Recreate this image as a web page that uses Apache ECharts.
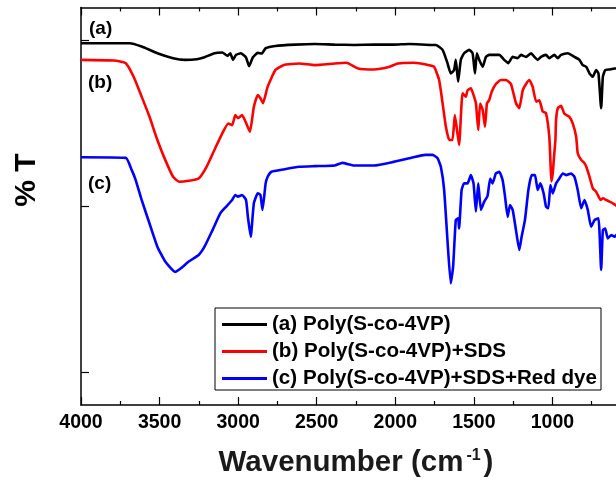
<!DOCTYPE html>
<html>
<head>
<meta charset="utf-8">
<script src="https://cdn.jsdelivr.net/npm/echarts@6/dist/echarts.min.js"></script>
<style>
  html, body { margin: 0; padding: 0; background: #fff; }
  #chart { width: 616px; height: 495px; }
</style>
</head>
<body>
<div id="chart"></div>
<script>
// FTIR spectra: wavenumber (cm-1) against relative transmittance (offset traces)
const xTicks = [4000, 3500, 3000, 2500, 2000, 1500, 1000, 500];
const yTicks = [10, 60, 110];

const seriesNames = [
  '(a) Poly(S-co-4VP)',
  '(b) Poly(S-co-4VP)+SDS',
  '(c) Poly(S-co-4VP)+SDS+Red dye'
];
const traceLabels = ['(a)', '(b)', '(c)'];

// (a) copolymer
const wnA = [4000, 3690, 3614, 3514, 3414, 3339, 3263, 3214, 3151, 3101, 3068, 3050, 3033, 3013, 2983,
  2950, 2930, 2907, 2875, 2850, 2825, 2763, 2637, 2512, 2386, 2261, 2136, 2011, 1911, 1760, 1742,
  1699, 1668, 1647, 1626, 1615, 1600, 1583, 1562, 1530, 1508, 1493, 1481, 1466, 1444, 1423, 1402,
  1370, 1338, 1307, 1281, 1253, 1221, 1200, 1168, 1136, 1115, 1094, 1073, 1041, 1020, 988, 966,
  945, 902, 860, 828, 807, 785, 764, 743, 722, 707, 690, 679, 664, 637, 605, 585];
const tA = [109.2, 109.2, 108.2, 106.2, 104.7, 104.2, 104.4, 105.0, 106.2, 106.4, 105.4, 106.2, 104.2, 105.7, 106.2,
  104.9, 102.3, 104.9, 106.3, 106.1, 107.7, 108.4, 108.8, 109.0, 108.8, 108.7, 108.8, 108.8, 109.0, 108.7, 108.7,
  107.2, 103.2, 100.1, 101.1, 104.2, 97.6, 104.2, 106.2, 107.2, 106.2, 100.1, 106.2, 104.2, 102.1, 105.1, 105.7,
  105.7, 105.7, 104.2, 103.2, 105.1, 104.7, 105.7, 105.1, 106.2, 105.1, 104.2, 105.1, 105.7, 104.7, 105.7, 104.7,
  105.7, 106.2, 105.1, 104.2, 102.6, 102.1, 100.1, 99.1, 101.1, 100.1, 89.6, 99.1, 101.1, 101.3, 101.6, 101.6];

// (b) copolymer + SDS
const wnB = [4000, 3790, 3715, 3665, 3614, 3564, 3514, 3464, 3414, 3376, 3314, 3251, 3201, 3151, 3101,
  3063, 3038, 3018, 3001, 2975, 2950, 2925, 2900, 2875, 2858, 2842, 2812, 2763, 2712, 2612, 2512,
  2386, 2311, 2236, 2136, 2036, 1985, 1885, 1838, 1785, 1753, 1721, 1699, 1678, 1657, 1636, 1621,
  1594, 1572, 1551, 1540, 1519, 1505, 1487, 1472, 1460, 1444, 1429, 1417, 1402, 1387, 1360, 1328,
  1296, 1264, 1232, 1211, 1189, 1168, 1147, 1126, 1104, 1083, 1062, 1041, 1020, 1013, 1007, 998,
  988, 981, 977, 966, 945, 924, 892, 871, 849, 839, 817, 796, 785, 764, 743, 722, 707, 694, 679,
  658, 637, 616, 585];
const tB = [104.2, 104.0, 103.2, 99.1, 93.1, 87.0, 80.0, 74.0, 68.9, 67.4, 67.7, 68.4, 71.9, 77.0, 82.0,
  85.0, 84.5, 87.5, 86.6, 87.5, 85.2, 82.5, 90.0, 93.6, 92.6, 91.1, 96.1, 101.1, 102.6, 103.1, 102.6,
  103.1, 103.3, 101.6, 101.3, 102.1, 103.1, 103.3, 103.1, 102.6, 102.1, 98.1, 91.1, 84.0, 80.0, 80.0, 87.5,
  78.5, 94.1, 93.1, 95.0, 95.6, 94.0, 91.1, 83.0, 91.0, 89.1, 84.0, 91.0, 92.1, 94.5, 96.9, 98.1,
  98.1, 96.9, 91.1, 89.6, 95.0, 96.9, 98.1, 96.1, 91.6, 92.0, 88.6, 88.1, 81.1, 74.0, 67.5, 70.0,
  76.0, 80.0, 86.0, 89.6, 90.3, 87.9, 87.0, 85.0, 81.0, 76.0, 74.0, 73.0, 72.0, 68.9, 65.4, 64.4, 63.0, 61.9, 62.4,
  61.9, 61.4, 60.9, 59.9];

// (c) copolymer + SDS + red dye
const wnC = [4000, 3715, 3677, 3652, 3614, 3564, 3514, 3464, 3401, 3364, 3314, 3251, 3214, 3163, 3113,
  3076, 3038, 3018, 3001, 2975, 2950, 2938, 2920, 2900, 2875, 2858, 2845, 2825, 2812, 2788, 2712,
  2612, 2512, 2386, 2337, 2261, 2136, 2011, 1885, 1810, 1763, 1731, 1710, 1689, 1668, 1647, 1632,
  1615, 1600, 1594, 1578, 1562, 1540, 1519, 1502, 1487, 1472, 1455, 1434, 1413, 1396, 1381, 1360,
  1338, 1317, 1302, 1285, 1270, 1253, 1232, 1211, 1196, 1175, 1153, 1132, 1111, 1094, 1077, 1056,
  1041, 1026, 1013, 998, 977, 956, 934, 913, 881, 860, 839, 817, 796, 775, 754, 732, 707, 690,
  679, 664, 648, 626, 605, 585];
const tC = [74.8, 74.6, 70.9, 67.9, 61.9, 54.8, 47.8, 43.3, 40.2, 41.3, 43.3, 45.3, 47.8, 52.8, 57.9,
  59.9, 61.9, 63.4, 62.9, 63.4, 61.9, 56.8, 50.8, 60.9, 63.9, 63.4, 58.9, 66.9, 68.9, 70.4, 71.1,
  71.9, 72.1, 72.3, 73.1, 72.3, 72.3, 73.4, 74.8, 75.5, 75.5, 74.5, 71.9, 64.9, 49.8, 36.7, 41.8,
  55.8, 56.4, 53.3, 64.9, 66.9, 66.9, 69.4, 66.9, 58.4, 66.9, 58.9, 61.4, 63.1, 68.4, 66.9, 69.9,
  70.4, 67.9, 63.1, 56.8, 60.4, 58.9, 52.8, 46.8, 50.8, 55.8, 64.9, 69.4, 69.4, 64.9, 66.9, 63.9,
  59.9, 59.4, 66.4, 63.9, 66.9, 68.4, 69.9, 69.4, 69.9, 68.9, 64.9, 59.4, 61.9, 58.9, 53.8, 55.8, 56.4, 40.8,
  52.8, 53.3, 50.3, 51.3, 50.8, 51.8];

const colors = ['#000000', '#ff0000', '#0000ff'];
const FONT = '"Liberation Sans", Arial, Helvetica, sans-serif';

const pairs = (w, t) => w.map((x, i) => [x, t[i]]);
const traces = [pairs(wnA, tA), pairs(wnB, tB), pairs(wnC, tC)];

const chart = echarts.init(document.getElementById('chart'), null, { renderer: 'canvas' });

const axisLineStyle = { color: '#000', width: 1.5 };
const tickStyle = { color: '#000', width: 1.2 };

const option = {
  backgroundColor: '#ffffff',
  animation: false,
  grid: {
    left: 81, right: -15, top: 7.5, bottom: 90,
    containLabel: false,
    outerBoundsMode: 'none'
  },
  xAxis: [
    {
      type: 'value',
      min: xTicks[xTicks.length - 1],
      max: xTicks[0],
      interval: 500,
      inverse: true,
      position: 'bottom',
      axisLine: { show: true, onZero: false, lineStyle: axisLineStyle },
      axisTick: { show: true, inside: true, length: 8, lineStyle: tickStyle },
      minorTick: { show: true, splitNumber: 2, length: 4, lineStyle: tickStyle },
      axisLabel: {
        show: true, margin: 8, color: '#000', fontSize: 19.5, fontWeight: 'bold', fontFamily: FONT,
        showMinLabel: false,
        formatter: v => String(v)
      },
      splitLine: { show: false },
      minorSplitLine: { show: false },
      name: 'Wavenumber (cm{sup|-1})',
      nameLocation: 'middle',
      nameGap: 43,
      nameTextStyle: {
        color: '#1a1a1a', fontSize: 29.5, fontWeight: 'bold', fontFamily: FONT,
        rich: {
          sup: { fontSize: 16, fontWeight: 'bold', fontFamily: FONT, color: '#1a1a1a', verticalAlign: 'top', padding: [0, 3, 0, 3] }
        }
      }
    },
    {
      type: 'value',
      min: xTicks[xTicks.length - 1],
      max: xTicks[0],
      interval: 500,
      inverse: true,
      position: 'top',
      axisLine: { show: true, onZero: false, lineStyle: axisLineStyle },
      axisTick: { show: true, inside: true, length: 8, lineStyle: tickStyle },
      minorTick: { show: true, splitNumber: 2, length: 4, lineStyle: tickStyle },
      axisLabel: { show: false },
      splitLine: { show: false }
    }
  ],
  yAxis: [
    {
      type: 'value',
      min: 0,
      max: 120,
      position: 'left',
      axisLine: { show: true, onZero: false, lineStyle: axisLineStyle },
      axisTick: { show: true, inside: true, length: 8, customValues: yTicks, lineStyle: tickStyle },
      axisLabel: { show: false },
      splitLine: { show: false }
    }
  ],
  legend: {
    orient: 'vertical',
    left: 215,
    top: 308,
    data: seriesNames,
    icon: 'rect',
    itemWidth: 45,
    itemHeight: 3,
    itemGap: 6,
    padding: [6, 4, 1, 7],
    borderColor: '#000',
    borderWidth: 1,
    borderRadius: 0,
    backgroundColor: '#fff',
    selectedMode: false,
    textStyle: { color: '#000', fontSize: 20.6, fontWeight: 'bold', fontFamily: FONT, lineHeight: 20 }
  },
  series: traces.map((d, i) => ({
    name: seriesNames[i],
    type: 'line',
    data: d,
    xAxisIndex: 0,
    yAxisIndex: 0,
    showSymbol: false,
    smooth: 0.15,
    lineStyle: { color: colors[i], width: 2.6 },
    itemStyle: { color: colors[i] },
    z: 3 - i
  })),
  graphic: [
    {
      type: 'text',
      x: 27, y: 180,
      rotation: Math.PI / 2,
      style: {
        text: '% T', fill: '#000', font: 'bold 30px ' + FONT,
        align: 'center', verticalAlign: 'middle'
      }
    },
    { type: 'text', x: 89, y: 29, style: { text: traceLabels[0], fill: '#000', font: 'bold 19px ' + FONT, verticalAlign: 'middle' } },
    { type: 'text', x: 88, y: 83, style: { text: traceLabels[1], fill: '#000', font: 'bold 19px ' + FONT, verticalAlign: 'middle' } },
    { type: 'text', x: 88, y: 184, style: { text: traceLabels[2], fill: '#000', font: 'bold 19px ' + FONT, verticalAlign: 'middle' } }
  ]
};

chart.setOption(option);
</script>
</body>
</html>
